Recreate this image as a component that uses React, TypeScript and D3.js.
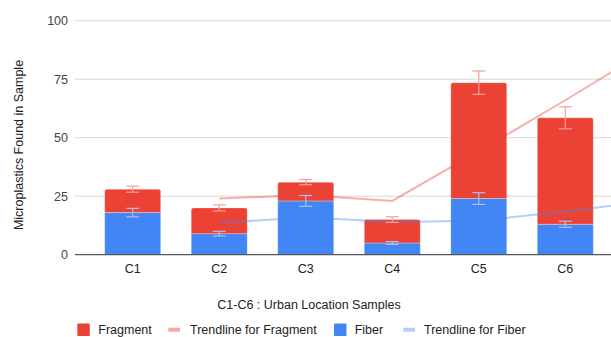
import React from "react";
import * as d3 from "d3";

const categories = ["C1", "C2", "C3", "C4", "C5", "C6"];
const fiber = [18, 9, 23, 5, 24, 13];
const fragment = [10, 11, 8, 10, 49.5, 45.5];
const fiberErr = [1.8, 1, 2.3, 0.6, 2.5, 1.3];
const fragmentErr = [1.3, 1.3, 1.1, 1.2, 5, 4.7];
// trendline values (moving average), index 6 continues beyond the visible edge
const fragmentTrend: (number | null)[] = [null, 24, 25.5, 23, 44.25, 66, 88.5];
const fiberTrend: (number | null)[] = [null, 13.5, 16, 14, 14.5, 18.5, 23];
const yTicks = [0, 25, 50, 75, 100];

const W = 611;
const H = 337;
const FONT = "'Liberation Sans', Arial, sans-serif";
const RED = "#ea4335";
const BLUE = "#4285f4";
const RED_T = "#f5aaa4";
const BLUE_T = "#b4cdfb";
const RED_E = "#f3a09a";
const BLUE_E = "#a9c2ef";

export default function App() {
  const y = d3.scaleLinear().domain([0, 100]).range([254.7, 20.7]);
  const x = d3.scaleLinear().domain([0, 5]).range([132.7, 565.3]);
  const barW = 56;
  const gridX0 = 75;
  const gridX1 = W;

  const line = d3
    .line<number | null>()
    .defined((d) => d !== null)
    .x((_, i) => x(i))
    .y((d) => y(d as number));

  const topRounded = (x0: number, y0: number, w: number, h: number, r: number) =>
    `M${x0},${y0 + h}V${y0 + r}Q${x0},${y0} ${x0 + r},${y0}H${x0 + w - r}Q${x0 + w},${y0} ${x0 + w},${y0 + r}V${y0 + h}Z`;

  const errBar = (cx: number, v: number, e: number, color: string, key: string) => {
    const yt = y(v + e);
    const yb = y(v - e);
    return (
      <g key={key} stroke={color} strokeWidth={1.2}>
        <line x1={cx} x2={cx} y1={yt} y2={yb} />
        <line x1={cx - 6.5} x2={cx + 6.5} y1={yt} y2={yt} />
        <line x1={cx - 6.5} x2={cx + 6.5} y1={yb} y2={yb} />
      </g>
    );
  };

  return (
    <svg
      width={W}
      height={H}
      style={{ position: "absolute", left: 0, top: 0, background: "#fff" }}
      fontFamily={FONT}
    >
      <rect width={W} height={H} fill="#fff" />
      {yTicks.map((t) => (
        <g key={t}>
          {t !== 0 && (
            <line x1={gridX0} x2={gridX1} y1={y(t)} y2={y(t)} stroke="#d9d9d9" strokeWidth={1} />
          )}
          <text x={68} y={y(t)} dy="0.35em" textAnchor="end" fontSize={12.5} fill="#444">
            {t}
          </text>
        </g>
      ))}
      {categories.map((c, i) => {
        const cx = x(i);
        const yFiberTop = y(fiber[i]);
        const yTotalTop = y(fiber[i] + fragment[i]);
        return (
          <g key={c} stroke="#fff" strokeOpacity={0.3} strokeWidth={1}>
            <rect x={cx - barW / 2} y={yFiberTop} width={barW} height={y(0) - yFiberTop} fill={BLUE} />
            <path d={topRounded(cx - barW / 2, yTotalTop, barW, yFiberTop - yTotalTop, 2)} fill={RED} />
          </g>
        );
      })}
      <line x1={gridX0} x2={gridX1} y1={y(0)} y2={y(0)} stroke="#555" strokeWidth={1.2} />
      <path d={line(fragmentTrend) || ""} fill="none" stroke={RED} strokeOpacity={0.42} strokeWidth={2} />
      <path d={line(fiberTrend) || ""} fill="none" stroke={BLUE} strokeOpacity={0.4} strokeWidth={2} />
      {categories.map((c, i) => (
        <g key={"e" + c}>
          {errBar(x(i), fiber[i] + fragment[i], fragmentErr[i], RED_E, "fe" + c)}
          {errBar(x(i), fiber[i], fiberErr[i], BLUE_E, "be" + c)}
        </g>
      ))}
      {categories.map((c, i) => (
        <text key={"l" + c} x={x(i)} y={269} dy="0.35em" textAnchor="middle" fontSize={12.5} fill="#222">
          {c}
        </text>
      ))}
      <text
        transform={`translate(18.5,145) rotate(-90)`}
        textAnchor="middle"
        dy="0.35em"
        fontSize={12.5}
        fill="#222"
      >
        Microplastics Found in Sample
      </text>
      <text x={309} y={305} dy="0.35em" textAnchor="middle" fontSize={12.5} fill="#222">
        C1-C6 : Urban Location Samples
      </text>
      <g fontSize={12.5} fill="#222">
        <rect x={77.3} y={323.5} width={12.5} height={12.5} fill={RED} rx={1} />
        <text x={98.3} y={329.7} dy="0.35em">Fragment</text>
        <line x1={168.3} x2={180} y1={329.7} y2={329.7} stroke={RED_T} strokeWidth={4} />
        <text x={190} y={329.7} dy="0.35em">Trendline for Fragment</text>
        <rect x={334} y={323.5} width={12.5} height={12.5} fill={BLUE} rx={1} />
        <text x={354.7} y={329.7} dy="0.35em">Fiber</text>
        <line x1={403.3} x2={415} y1={329.7} y2={329.7} stroke={BLUE_T} strokeWidth={4} />
        <text x={424} y={329.7} dy="0.35em">Trendline for Fiber</text>
      </g>
    </svg>
  );
}
